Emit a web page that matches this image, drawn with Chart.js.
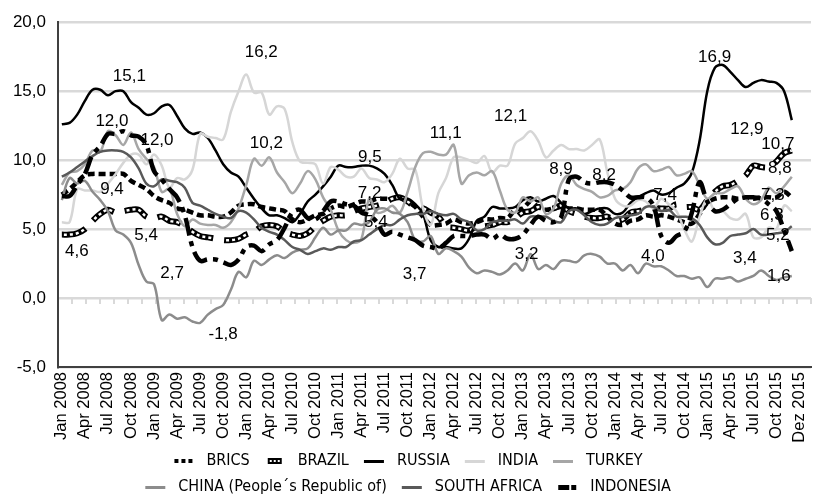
<!DOCTYPE html>
<html>
<head>
<meta charset="utf-8">
<script src="https://cdn.jsdelivr.net/npm/chart.js@4.4.1/dist/chart.umd.min.js"></script>
<style>
  html, body { margin: 0; padding: 0; background: #fff; }
</style>
</head>
<body>
<canvas id="chartContainer" width="817" height="502"></canvas>
<script>
// tick labels shown under the axis (one every third month)
var tickLabels = ['Jan 2008','Apr 2008','Jul 2008','Oct 2008','Jan 2009','Apr 2009','Jul 2009','Oct 2009',
  'Jan 2010','Apr 2010','Jul 2010','Oct 2010','Jan 2011','Apr 2011','Jul 2011','Oct 2011',
  'Jan 2012','Apr 2012','Jul 2012','Oct 2012','Jan 2013','Apr 2013','Jul 2013','Oct 2013',
  'Jan 2014','Apr 2014','Jul 2014','Oct 2014','Jan 2015','Apr 2015','Jul 2015','Oct 2015','Dez 2015'];

var monthNames = ['Jan','Feb','Mar','Apr','May','Jun','Jul','Aug','Sep','Oct','Nov','Dec'];

var seriesNames = ['BRICS', 'BRAZIL', 'RUSSIA', 'INDIA', 'TURKEY',
  'CHINA (People\u00b4s Republic of)', 'SOUTH AFRICA', 'INDONESIA'];

// monthly values, Jan 2008 - Dec 2015
var bricsValues = [
  7.5,7.9,8.4,8.9,9.0,9.0,9.0,9.0,9.0,8.5,8.2,7.9,
  7.4,7.1,6.9,6.5,6.4,6.2,6.0,6.0,5.9,5.9,6.2,6.7,
  6.8,6.8,6.6,6.5,6.4,6.3,5.7,5.5,5.7,6.0,6.1,6.5,
  6.7,6.6,6.8,7.0,7.0,7.2,7.2,7.2,7.3,7.0,6.6,5.9,
  5.3,5.3,5.4,5.7,5.5,5.4,5.5,5.7,5.7,5.8,5.8,6.4,
  6.5,7.0,6.6,6.4,6.5,6.6,6.5,6.5,6.4,6.4,6.4,5.9,
  5.4,5.3,5.6,5.7,6.0,5.9,6.0,5.9,5.7,5.5,5.4,6.1,
  6.9,7.2,7.3,7.3,7.2,7.3,7.2,7.3,7.3,7.3,7.7,7.3];
var brazilValues = [
  4.6,4.6,4.7,5.0,5.6,6.1,6.4,6.2,6.3,6.4,6.4,5.9,
  5.8,5.9,5.6,5.5,5.2,4.8,4.5,4.4,4.3,4.2,4.2,4.3,
  4.6,4.8,5.2,5.3,5.2,4.8,4.6,4.5,4.7,5.2,5.6,5.9,
  6.0,6.0,6.3,6.5,6.6,6.7,6.9,7.2,7.3,7.0,6.6,6.5,
  6.2,5.9,5.2,5.1,5.0,4.9,5.2,5.2,5.3,5.5,5.5,5.8,
  6.2,6.3,6.6,6.5,6.5,6.7,6.3,6.1,5.9,5.8,5.8,5.9,
  5.6,5.7,6.2,6.3,6.4,6.5,6.5,6.5,6.8,6.6,6.6,6.4,
  7.1,7.7,8.1,8.2,8.5,8.9,9.6,9.5,9.5,9.9,10.5,10.7];
var russiaValues = [
  12.6,12.7,13.3,14.3,15.1,15.1,14.7,15.0,15.0,14.2,13.8,13.3,
  13.4,13.9,14.0,13.2,12.3,11.9,12.0,11.6,10.7,9.7,9.1,8.8,
  8.0,7.2,6.5,6.0,6.0,5.8,5.5,6.1,7.0,7.5,8.1,8.8,
  9.6,9.5,9.5,9.6,9.6,9.4,9.0,8.2,7.2,7.2,6.8,6.1,
  4.2,3.7,3.7,3.6,3.6,4.3,5.6,5.9,6.6,6.5,6.5,6.6,
  7.1,7.3,7.0,7.2,7.4,6.9,6.5,6.5,6.1,6.3,6.5,6.5,
  6.1,6.2,6.9,7.3,7.6,7.8,7.5,7.6,8.0,8.3,9.1,11.4,
  15.0,16.7,16.9,16.4,15.8,15.3,15.6,15.8,15.7,15.6,15.0,12.9];
var indiaValues = [
  5.5,5.5,7.9,7.8,7.8,7.7,8.3,9.0,9.8,10.4,10.4,9.7,
  10.4,9.6,8.0,8.7,8.6,9.3,11.9,11.7,11.6,11.5,13.5,15.0,
  16.2,14.9,14.9,13.3,13.9,13.7,11.3,9.9,9.8,9.7,8.3,9.5,
  9.3,8.8,8.8,9.4,8.7,8.6,8.4,9.0,10.1,9.4,9.3,6.5,
  5.3,7.6,8.7,10.2,10.2,10.0,9.8,10.3,9.1,9.6,9.6,11.2,
  11.6,12.1,11.4,10.2,10.7,11.1,10.8,10.8,10.7,11.1,11.5,9.1,
  7.2,6.7,6.7,7.1,7.0,6.5,7.2,6.8,6.3,5.0,4.1,5.9,
  7.2,6.3,6.3,5.8,5.7,6.1,4.4,4.4,5.1,5.0,6.7,6.3];
var turkeyValues = [
  8.2,9.1,9.2,9.7,10.7,10.6,12.1,11.8,11.1,12.0,10.8,10.1,
  9.5,7.7,7.9,6.1,5.2,5.7,5.4,5.3,5.3,5.1,5.5,6.5,
  8.2,10.1,9.6,10.2,9.1,8.4,7.6,8.3,9.2,8.6,7.3,6.4,
  4.9,4.2,4.0,4.3,7.2,6.2,6.3,6.7,6.2,7.7,9.5,10.5,
  10.6,10.4,10.4,11.1,8.3,8.9,9.1,8.9,9.2,7.8,6.4,6.2,
  7.3,7.0,7.3,6.1,6.5,8.3,8.9,8.2,7.9,7.7,7.3,7.4,
  7.8,7.9,8.4,9.4,9.7,9.2,9.3,9.5,8.9,9.0,9.2,8.2,
  7.2,7.6,7.6,7.9,8.1,7.2,6.8,7.1,8.0,7.6,8.1,8.8];
var chinaValues = [
  7.1,8.7,8.3,8.5,7.7,7.1,6.3,4.9,4.6,4.0,2.4,1.2,
  1.0,-1.6,-1.2,-1.5,-1.4,-1.7,-1.8,-1.2,-0.8,-0.5,0.6,1.9,
  1.5,2.7,2.4,2.8,3.1,2.9,3.3,3.5,3.6,4.4,5.1,4.6,
  4.9,4.9,5.4,5.3,5.5,6.4,6.5,6.2,6.1,5.5,4.2,4.1,
  4.5,3.2,3.6,3.4,3.0,2.2,1.8,2.0,1.9,1.7,2.0,2.5,
  2.0,3.2,2.1,2.4,2.1,2.7,2.7,2.6,3.1,3.2,3.0,2.5,
  2.5,2.0,2.4,1.8,2.5,2.3,2.3,2.0,1.6,1.6,1.4,1.5,
  0.8,1.4,1.4,1.5,1.2,1.4,1.6,2.0,1.6,1.3,1.5,1.6];
var southAfricaValues = [
  8.8,9.1,9.5,9.9,10.3,10.6,10.7,10.7,10.6,10.2,9.4,8.3,
  8.1,8.6,8.5,8.4,8.0,6.9,6.7,6.4,6.1,5.9,5.8,6.3,
  6.2,5.7,5.1,4.8,4.6,4.2,3.7,3.5,3.2,3.4,3.6,3.5,
  3.7,3.7,4.1,4.2,4.6,5.0,5.3,5.3,5.7,6.0,6.1,6.1,
  6.3,6.1,6.0,6.1,5.7,5.5,4.9,5.0,5.5,5.6,5.6,5.7,
  5.4,5.9,5.9,5.9,5.6,5.5,6.3,6.4,6.0,5.5,5.3,5.4,
  5.8,5.9,6.0,6.1,6.6,6.6,6.3,6.4,5.9,5.9,5.8,5.3,
  4.4,3.9,4.0,4.5,4.6,4.7,5.0,4.6,4.6,4.7,4.8,5.2];
var indonesiaValues = [
  7.4,7.4,8.2,9.0,10.4,11.0,11.9,11.9,12.1,11.8,11.7,11.1,
  9.2,8.6,7.9,7.3,6.0,3.7,2.7,2.8,2.8,2.6,2.4,2.8,
  3.7,3.8,3.4,3.9,4.2,5.1,6.2,6.4,5.8,5.7,6.3,7.0,
  7.0,6.8,6.7,6.2,6.0,5.5,4.6,4.8,4.6,4.4,4.2,3.8,
  3.7,3.6,4.0,4.5,4.5,4.5,4.6,4.6,4.3,4.6,4.3,4.3,
  4.6,5.3,5.9,5.6,5.5,5.9,8.6,8.8,8.4,8.3,8.4,8.4,
  8.2,7.8,7.3,7.3,7.3,6.7,4.5,4.0,4.5,4.8,6.2,8.4,
  7.0,6.3,6.4,6.8,7.2,7.3,7.3,7.2,6.8,6.3,4.9,3.4];

// value tags written on the chart: series, month index, text, offset x, offset y
var valueTags = [
  ['RUSSIA', 8, '15,1', 6, -15],
  ['INDONESIA', 6, '12,0', 4, -13],
  ['TURKEY', 9, '12,0', 26, 8],
  ['BRICS', 6, '9,4', 4, 15],
  ['BRAZIL', 0, '4,6', 15, 17],
  ['BRAZIL', 12, '5,4', -8, 17],
  ['INDONESIA', 18, '2,7', -28, 13],
  ['CHINA', 18, '-1,8', 23, 11],
  ['TURKEY', 27, '10,2', -3, -14],
  ['INDIA', 24, '16,2', 15, -22],
  ['RUSSIA', 38, '9,5', 16, -10],
  ['BRICS', 42, '7,2', -15, -5],
  ['INDONESIA', 41, '5,4', -1, 0],
  ['INDONESIA', 48, '3,7', -16, 27],
  ['TURKEY', 51, '11,1', -8, -12],
  ['INDIA', 61, '12,1', -20, -15],
  ['CHINA', 61, '3,2', -4, 0],
  ['TURKEY', 66, '8,9', -8, -6],
  ['INDONESIA', 72, '8,2', -11, -10],
  ['RUSSIA', 78, '7,4', 4, 1],
  ['INDONESIA', 79, '4,0', -16, 13],
  ['RUSSIA', 86, '16,9', -8, -8],
  ['RUSSIA', 95, '12,9', -45, 9],
  ['BRAZIL', 95, '10,7', -14, -6],
  ['TURKEY', 95, '8,8', -12, -8],
  ['BRICS', 95, '7,3', -19, -2],
  ['INDIA', 95, '6,3', -20, 4],
  ['SOUTH AFRICA', 95, '5,2', -14, 9],
  ['INDONESIA', 95, '3,4', -47, 7],
  ['CHINA', 95, '1,6', -13, 0]
];

var categories = [];
for (var yr = 2008; yr <= 2016; yr++) {
  for (var m = 0; m < 12; m++) {
    if (categories.length < 98) categories.push(monthNames[m] + ' ' + yr);
  }
}

var sansFont = '"Liberation Sans", Arial, sans-serif';
var narrowFont = '"DejaVu Sans Condensed", "Liberation Sans Narrow", sans-serif';

function lineSet(label, data, color, width, dash, order) {
  return {
    label: label,
    data: data,
    borderColor: color,
    backgroundColor: color,
    borderWidth: width,
    borderDash: dash,
    borderCapStyle: 'butt',
    borderJoinStyle: 'round',
    pointRadius: 0,
    tension: 0.35,
    fill: false,
    order: order
  };
}

var brazilDots = lineSet('BRAZIL dots', brazilValues, '#ffffff', 2.5, [3, 3, 3, 3, 3, 3, 3, 15], 6.5);
brazilDots.borderDashOffset = -2;

var datasets = [
  lineSet('BRICS', bricsValues, '#000000', 4.5, [7, 4], 8),
  lineSet('BRAZIL', brazilValues, '#000000', 6, [25, 11], 7),
  brazilDots,
  lineSet('RUSSIA', russiaValues, '#000000', 2.5, [], 6),
  lineSet('INDIA', indiaValues, '#d6d6d6', 2.5, [], 5),
  lineSet('TURKEY', turkeyValues, '#a6a6a6', 2.5, [], 4),
  lineSet('CHINA', chinaValues, '#8c8c8c', 2.5, [], 3),
  lineSet('SOUTH AFRICA', southAfricaValues, '#595959', 2.5, [], 2),
  lineSet('INDONESIA', indonesiaValues, '#000000', 4.5, [18, 6, 5, 6], 1)
];

var seriesIndex = {};
datasets.forEach(function(ds, i) { seriesIndex[ds.label] = i; });
var legendKeys = ['BRICS', 'BRAZIL', 'RUSSIA', 'INDIA', 'TURKEY', 'CHINA', 'SOUTH AFRICA', 'INDONESIA'];

// small canvases used as legend markers
function makeMarker(key) {
  var c = document.createElement('canvas');
  c.width = 22; c.height = 10;
  var g = c.getContext('2d');
  var ds = datasets[seriesIndex[key]];
  g.fillStyle = '#000';
  if (key == 'BRICS') {
    g.fillRect(2, 3, 4, 4); g.fillRect(9, 3, 4, 4); g.fillRect(16, 3, 4, 4);
  } else if (key == 'BRAZIL') {
    g.fillRect(4, 2, 14, 6);
    g.fillStyle = '#fff';
    g.fillRect(6, 4, 2, 2); g.fillRect(10, 4, 2, 2); g.fillRect(14, 4, 2, 2);
  } else if (key == 'INDONESIA') {
    g.fillRect(2, 3, 11, 5); g.fillRect(15, 3, 5, 5);
  } else {
    g.fillStyle = ds.borderColor;
    g.fillRect(1, 4, 20, 3);
  }
  return c;
}

var valueTagPlugin = {
  id: 'valueTags',
  afterDatasetsDraw: function(chart) {
    var ctx = chart.ctx;
    ctx.save();
    ctx.font = '17px ' + sansFont;
    ctx.fillStyle = '#000';
    ctx.textAlign = 'center';
    ctx.textBaseline = 'middle';
    valueTags.forEach(function(t) {
      var pt = chart.getDatasetMeta(seriesIndex[t[0]]).data[t[1]];
      ctx.fillText(t[2], pt.x + t[3], pt.y + t[4]);
    });
    ctx.restore();
  }
};

// legend wraps after TURKEY, like the original two rows
var legendRows = {
  id: 'legendRows',
  beforeLayout: function(chart) {
    var lg = chart.legend;
    if (lg && !lg.rowsFixed) {
      var update = lg.update;
      lg.update = function(w, h, mg) {
        update.call(this, Math.min(w, 600), h, mg);
        this.height = 59;
      };
      lg.rowsFixed = true;
    }
  }
};

var myChart = new Chart('chartContainer', {
  type: 'line',
  data: { labels: categories, datasets: datasets },
  plugins: [valueTagPlugin, legendRows],
  options: {
    animation: false,
    responsive: false,
    devicePixelRatio: 1,
    layout: { padding: { top: 17, right: 6, bottom: 0, left: 0 } },
    plugins: {
      tooltip: { enabled: false },
      legend: {
        position: 'bottom',
        labels: {
          usePointStyle: true,
          pointStyleWidth: 30,
          padding: 10,
          color: '#000',
          font: { family: narrowFont, size: 16 },
          generateLabels: function(chart) {
            return legendKeys.map(function(key, k) {
              return {
                text: seriesNames[k],
                pointStyle: makeMarker(key),
                fillStyle: 'rgba(0,0,0,0)',
                strokeStyle: 'rgba(0,0,0,0)',
                lineWidth: 0,
                fontColor: '#000',
                hidden: false,
                datasetIndex: seriesIndex[key]
              };
            });
          }
        }
      }
    },
    scales: {
      x: {
        type: 'category',
        offset: true,
        grid: { display: false, drawTicks: false },
        border: { display: true, color: '#404040', width: 2 },
        ticks: {
          autoSkip: false,
          maxRotation: 90,
          minRotation: 90,
          padding: 5,
          color: '#000',
          font: { family: sansFont, size: 16.5 },
          callback: function(v, i) { return i % 3 === 0 ? tickLabels[i / 3] : ''; }
        },
        afterFit: function(s) {
          s.height = 76;
          s.paddingLeft = 0;
          s.paddingRight = 0;
        }
      },
      y: {
        min: -5,
        max: 20,
        grid: { color: '#d9d9d9', lineWidth: 2.5, drawTicks: false },
        border: { display: true, color: '#404040', width: 2 },
        ticks: {
          stepSize: 5,
          padding: 12,
          color: '#000',
          font: { family: sansFont, size: 17 },
          callback: function(v) { return v.toFixed(1).replace('.', ','); }
        },
        afterFit: function(s) { s.width = 58; }
      },
      x2: {
        type: 'linear',
        axis: 'x',
        position: { y: 0 },
        min: 0,
        max: 54,
        grid: { drawOnChartArea: false, drawTicks: true, tickLength: 6, color: '#d9d9d9', lineWidth: 2 },
        border: { display: false },
        ticks: { display: false, stepSize: 1, autoSkip: false }
      }
    }
  }
});
</script>
</body>
</html>
